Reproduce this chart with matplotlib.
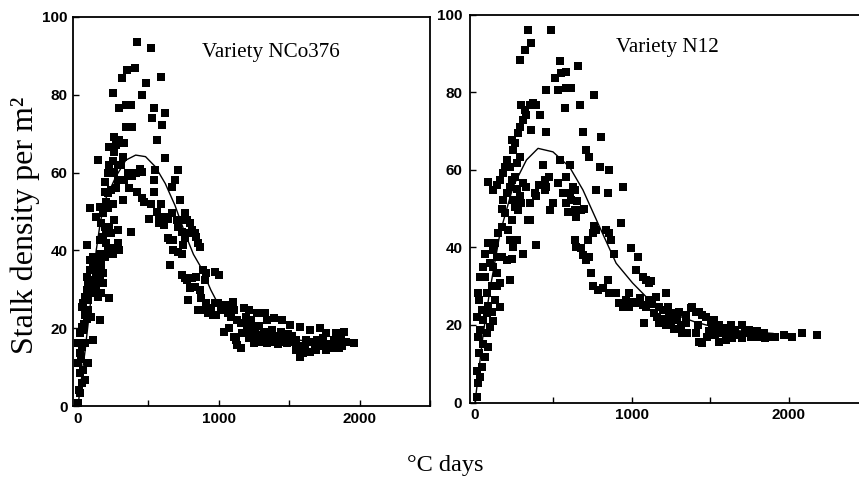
import matplotlib
matplotlib.use("Agg")
import matplotlib.pyplot as plt

# ---------------- data ----------------
panel_titles = ["Variety NCo376", "Variety N12"]
x_ticks = [0, 1000, 2000]
y_ticks = [0, 20, 40, 60, 80, 100]

# Variety NCo376 observations (degree days, stalks per m2)
nco_x = [2, 14, 26, 14, 49, 37, 72, 2, 14, 2, 26, 49, 14, 26, 37, 49, 72, 61, 96, 37,
         49, 72, 84, 61, 26, 84, 61, 84, 107, 61, 72, 96, 84, 8, 20, 40,
         107, 131, 154, 177, 131, 142, 166, 224, 107, 131, 142, 166, 177, 107, 131, 154, 166, 189,
         212, 200, 247, 294, 259, 282, 131, 166, 189, 224, 200, 177, 235, 154, 142, 154, 177, 212,
         189, 235, 235, 259, 282, 224, 259, 259, 294, 247, 259, 282, 154, 200, 212, 247, 270, 224,
         247, 270, 282, 212, 189,
         312, 347, 406, 422, 340, 375, 294, 340, 387, 329, 352, 387, 410, 457, 317, 457, 468, 375,
         457, 480, 317, 305, 330, 360, 420, 440,
         522, 592, 538, 620, 527, 597, 562, 620, 550, 538, 503, 573, 608, 643, 667, 573, 608, 690,
         667, 655, 643, 678, 678, 655, 620, 543, 520, 590, 560,
         713, 725, 701, 713, 737, 760, 772, 795, 725, 713, 748, 760, 795, 807, 841, 853, 830, 865,
         737, 772, 807, 841, 795, 830, 865, 900, 783, 737, 888, 876, 760, 853, 888,
         911, 946, 970, 923, 958, 981, 1016, 1040, 1063, 1086, 970, 1005, 911, 1040, 1075, 1086,
         1063, 1098, 993, 1016,
         1110, 1121, 1133, 1156, 1110, 1133, 1156, 1191, 1179, 1168, 1203, 1226, 1250, 1179, 1214,
         1203, 1249, 1273, 1296, 1249, 1296, 1273, 1230, 1260, 1285, 1215,
         1331, 1343, 1389, 1448, 1343, 1389, 1436, 1482, 1529, 1506, 1576, 1320, 1355, 1380, 1410,
         1440, 1465, 1495, 1520, 1545, 1552, 1576, 1599, 1570, 1310, 1365, 1420,
         1646, 1716, 1762, 1832, 1867, 1646, 1692, 1762, 1809, 1856, 1960, 1902, 1890, 1620, 1660,
         1700, 1730, 1780, 1820, 1850, 1875, 1610, 1680, 1740, 1800]
nco_y = [0.8, 3.3, 5.9, 8.5, 6.7, 9.3, 11, 11, 13.6, 16.2, 15.2, 16.2, 18.7, 20.4, 19.5, 23.4, 24.7, 22.4, 23, 26.4,
         28.1, 27.2, 29, 29.8, 25.5, 35, 41.4, 50.8, 17, 33.2, 31.5, 32.4, 37.5, 4, 12, 21,
         30.7, 31.5, 32.4, 31.5, 29.8, 28.1, 29, 27.7, 35.8, 34.5, 33.2, 35, 34.1, 38.4, 37.5, 39.2, 37.1, 38.4,
         40.1, 41.8, 39.2, 40.1, 40.6, 41.8, 48.7, 47, 46.1, 46.1, 44.4, 43.5, 44.6, 22.1, 63.2, 51.2, 49.5, 54.7,
         57.7, 55.5, 60.2, 59.8, 58, 66.7, 65.4, 69.2, 68.4, 80.4, 47.8, 45.2, 42.7, 52.5, 50.8, 52, 56, 62,
         63, 67, 62, 60, 55,
         84.2, 86.4, 86.8, 93.7, 77.4, 77.4, 76.5, 71.8, 71.8, 67.5, 59.8, 59, 59.8, 60.2, 53, 53.4, 52.5, 44.8,
         80, 83, 64, 62, 58, 56, 55, 61,
         92, 84.7, 76.5, 75.2, 74, 72.2, 68.4, 63.7, 60.7, 58, 48.2, 48.7, 47.8, 48.2, 49.5, 47, 46.5, 58,
         56.4, 36.2, 43.1, 42.7, 40.1, 42.7, 48.7, 55, 52, 52, 50,
         60.7, 53, 47.8, 46.1, 44.8, 49.5, 47.8, 47, 47.8, 39.7, 41.4, 43.1, 44.4, 45.2, 43.5, 41.8, 44.4, 41,
         33.7, 32.4, 32.8, 33.2, 30.3, 30.7, 29.8, 32.4, 27.2, 39.2, 35, 27.7, 32.8, 24.7, 24.7,
         26.4, 25.1, 26.4, 23.8, 23.4, 23.4, 25.5, 24.7, 23.8, 24.7, 34.5, 33.7, 34.1, 19.1, 20, 23,
         26, 26.8, 26.4, 26,
         17.8, 17, 15.7, 14.8, 24.7, 22.1, 21.3, 23, 25.1, 18.7, 19.5, 21.3, 17, 21.3, 24.7,
         20.4, 18.7, 17.8, 18.3, 16.1, 16.5, 23.8, 22, 20, 20.5, 17.5,
         23.8, 22.1, 22.5, 22.1, 16.1, 16.5, 16.5, 16.1, 16.5, 20.8, 20.4, 19, 18.5, 19.5, 18,
         19, 17.5, 18.5, 18, 17, 14.4, 12.7, 13.5, 15.5, 17, 17, 16,
         19.5, 20, 18.7, 18.7, 17.8, 14, 14.4, 14.4, 14.8, 14.8, 16.1, 16.5, 19.1, 17, 16.5,
         17, 15.5, 16, 17, 16.5, 15.5, 15.5, 16, 17.5, 16]

# Variety N12 observations
n12_x = [11, 21, 32, 42, 63, 85, 74, 32, 21, 28, 53, 74, 106, 95, 42, 21, 28, 32, 53, 63,
         74, 106, 127, 159, 138, 159, 85, 63, 95, 116, 10, 15, 50, 85, 115, 140,
         127, 116, 138, 169, 201, 233, 222, 169, 148, 201, 180, 169, 190, 243, 254, 275, 296, 233,
         212, 222, 265, 243, 201, 190, 180, 159, 138, 116, 85, 222, 233, 222, 265, 286, 286, 275,
         254, 243, 233, 286, 296, 286, 254, 265,
         339, 487, 317, 360, 455, 317, 349, 370, 392, 328, 307, 413, 360, 455, 434, 307, 328, 349,
         339, 381, 392, 444, 455, 444, 497, 476, 307, 392, 349, 410, 470,
         540, 508, 550, 582, 656, 529, 582, 614, 571, 667, 688, 540, 603, 529, 561, 582, 603, 624,
         635, 614, 593, 635, 646, 677, 698, 635, 646, 677, 688, 580, 650,
         762, 804, 709, 730, 794, 857, 772, 847, 709, 730, 751, 772, 836, 857, 868, 889, 741, 751,
         783, 815, 857, 847, 899, 720, 760,
         942, 931, 921, 942, 963, 984, 995, 1037, 1026, 1069, 1090, 984, 1026, 1069, 1090, 1080,
         1005, 1050,
         1111, 1122, 1111, 1153, 1217, 1175, 1196, 1228, 1175, 1217, 1249, 1280, 1312, 1344, 1259,
         1302, 1344, 1376, 1323, 1354, 1140, 1160, 1200, 1240, 1270, 1290, 1386, 1130,
         1407, 1450, 1429, 1471, 1503, 1407, 1429, 1450, 1481, 1513, 1545, 1577, 1598, 1619, 1661,
         1704, 1746, 1778, 1810, 1841, 1873, 1556, 1598, 1640, 1704, 1757, 1524, 1556, 1420, 1490,
         1530, 1570, 1630, 1680, 1720, 1800, 1850,
         1915, 1968, 2021, 2085, 2180]
n12_y = [1.5, 4.9, 6.7, 9.2, 11.8, 14.4, 17.8, 18.7, 17, 12.7, 21.3, 23, 23.4, 19.5, 23.8, 28.1, 26.4, 32.4, 35, 32.4,
         28.1, 29.9, 26.4, 24.7, 33.3, 30.7, 41, 38.4, 35.9, 35, 8, 22, 15, 25, 21, 30,
         41, 39.3, 37.6, 37.6, 36.7, 37.1, 31.6, 45.3, 43.6, 53.9, 52.2, 50, 48.8, 52.2, 50.5, 49.6, 51.3, 47,
         44.5, 41.9, 41.9, 40.2, 62.5, 60.8, 59.1, 57.3, 56, 54.8, 56.9, 60.8, 57.3, 55.6, 61.6, 63.4, 71, 69.4,
         66.8, 65.1, 67.7, 88.3, 76.7, 53.1, 58, 55,
         96, 96, 90.9, 92.6, 80.5, 75.4, 76.7, 77.1, 76.7, 74.1, 72.8, 74.1, 70.2, 69.8, 61.2, 56.5, 55.6, 51.3,
         47, 53.9, 53.1, 57.3, 55.6, 54.8, 51.3, 49.6, 38.4, 40.6, 47, 56, 58,
         87.9, 83.6, 84.8, 85.3, 86.6, 80.5, 81, 81, 75.8, 76.7, 69.8, 62.5, 61.2, 56.5, 53.9, 51.3, 53.9, 55.6,
         54.8, 52.2, 49.2, 49.6, 47.9, 49.6, 50, 41.9, 40.2, 39.7, 38.1, 58, 52,
         79.3, 68.5, 65.1, 63.4, 60.8, 59.9, 54.8, 53.9, 36.7, 37.6, 43.6, 44.5, 44.5, 43.6, 41.9, 38.4, 33.3, 29.9,
         29, 29.4, 28.1, 31.6, 28.1, 42, 45.5,
         55.6, 46.2, 25.6, 24.7, 26.4, 28.1, 39.7, 37.6, 34.2, 32.4, 31.6, 24.7, 25.6, 25.1, 24.7, 20.4,
         26, 27,
         30.7, 31.2, 26.4, 27.3, 28.1, 24.7, 23.8, 24.7, 20.4, 20, 20.8, 21.3, 20, 20.4, 23,
         23.4, 22.5, 24.3, 17.8, 17.8, 23, 22, 21.5, 22.5, 19, 22, 24.7, 25.5,
         23.4, 22.5, 23.4, 22.1, 20.8, 17.8, 15.7, 15.3, 17, 19.5, 18.7, 17.8, 19.1, 17.8, 18.7,
         20, 18.7, 17.8, 17, 17.8, 17, 15.7, 16.1, 16.5, 16.5, 17, 21.3, 20, 20, 18.5,
         17.5, 19, 20, 17.5, 18, 18.5, 16.5,
         17, 17.4, 17, 17.8, 17.4]

# fitted curves
nco_fit_x = [0, 50, 100, 130, 160, 200, 270, 340, 410, 480, 550, 620, 690, 760, 820, 876,
             944, 993, 1040, 1100, 1200, 1300, 1400, 1500, 1600, 1700, 1800, 1900]
nco_fit_y = [0, 14, 30, 40, 47.5, 53.5, 59, 63.2, 64.5, 64.1, 61.5, 57.2, 51.5, 44.4, 39, 35.5,
             29.8, 26.4, 24.7, 23, 20.5, 19, 18, 17.3, 16.8, 16.4, 16.1, 15.9]
n12_fit_x = [0, 53, 95, 159, 243, 328, 402, 497, 603, 688, 794, 900, 1005, 1090, 1135, 1200,
             1300, 1400, 1500, 1600, 1700, 1800, 1900]
n12_fit_y = [0, 18, 29, 43.6, 55.7, 62.5, 65.5, 64.6, 60.7, 54.8, 45.3, 35.9, 30.8, 27.3, 26, 24.3,
             22.3, 20.8, 19.7, 18.9, 18.4, 18.1, 17.8]

# ---------------- figure ----------------
W, H = 859, 488
fig = plt.figure(figsize=(W / 100, H / 100), dpi=100)

def fbox(l, r, b, t):
    return [l / W, 1 - b / H, (r - l) / W, (b - t) / H]

ax1 = fig.add_axes(fbox(73, 430, 406, 17))
ax2 = fig.add_axes(fbox(470, 867, 402.5, 14.5))

panels = [
    (ax1, nco_x, nco_y, nco_fit_x, nco_fit_y, (-35, 2461), (0.555, 0.91), 4.0),
    (ax2, n12_x, n12_y, n12_fit_x, n12_fit_y, (-32, 2490), (0.496, 0.916), 5.5),
]

for i, (ax, px, py, fx, fy, xl, tpos, ypad) in enumerate(panels):
    ax.scatter(px, py, marker="s", s=26, color="black", linewidths=0, clip_on=False, zorder=3)
    ax.plot(fx, fy, color="black", lw=1.0, zorder=2)
    ax.set_xlim(*xl)
    ax.set_ylim(0, 100)
    ax.set_xticks(x_ticks)
    ax.set_xticks([500, 1500, 2500], minor=True)
    ax.set_yticks(y_ticks)
    ax.tick_params(which="both", direction="in", length=4, width=1.0, color="black")
    ax.tick_params(axis="x", pad=4)
    ax.tick_params(axis="y", pad=ypad)
    for lab in ax.get_xticklabels() + ax.get_yticklabels():
        lab.set_fontfamily("Liberation Sans")
        lab.set_fontweight("bold")
        lab.set_fontsize(11)
    for sp in ax.spines.values():
        sp.set_linewidth(1.3)
    ax.text(tpos[0], tpos[1], panel_titles[i], transform=ax.transAxes,
            ha="center", va="center", fontsize=15.2, family="Liberation Serif")

ax2.spines["right"].set_visible(False)

fig.text(25 / W, 1 - 225 / H, "Stalk density per m\u00b2", rotation=90,
         ha="center", va="center", fontsize=23, family="Liberation Serif")
fig.text(445 / W, 1 - 465 / H, "\u00b0C days", ha="center", va="center",
         fontsize=17.5, family="Liberation Serif")

fig.savefig("out.png", dpi=100)
